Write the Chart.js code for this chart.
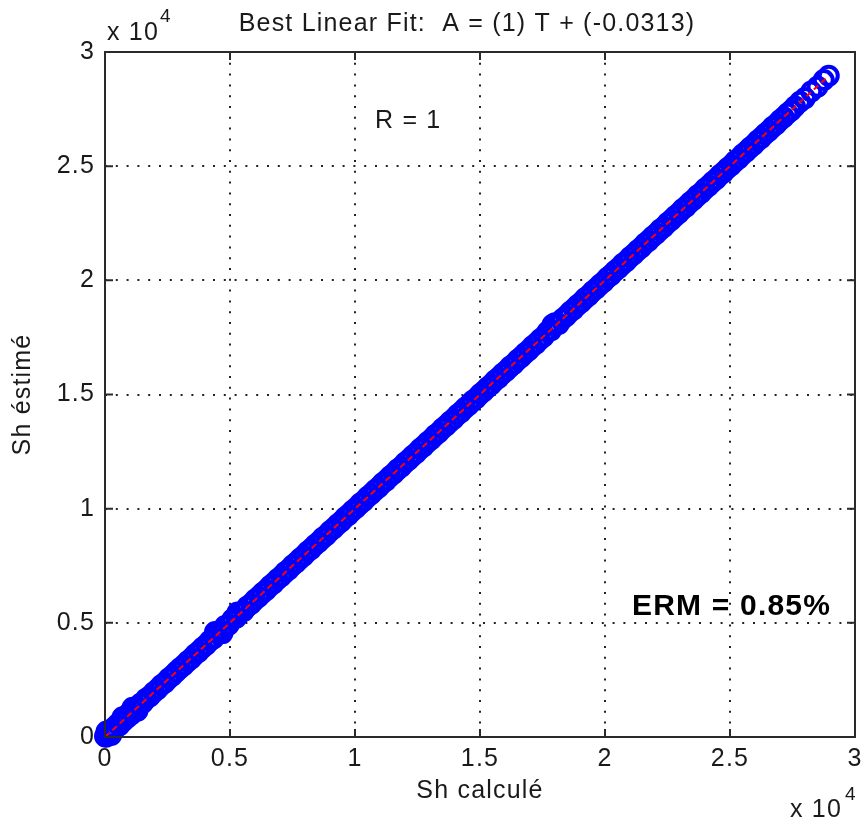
<!DOCTYPE html>
<html><head><meta charset="utf-8">
<script src="https://cdn.jsdelivr.net/npm/chart.js@4"></script>
<style>html,body{margin:0;padding:0;background:#fff}canvas{display:block}</style>
</head><body>
<canvas id="c" width="861" height="818"></canvas>
<script>
// Sh calculé (T) values, read along the diagonal band
const shCalcule = [
  0, 40, 90, 150, 210, 280, 350, 420, 500, 580,
  660, 740, 820, 900, 980, 1060, 1150, 1240, 1330, 1420,
  1520, 1650, 1800, 1950, 2100, 2250, 2400, 2550, 2700, 2850,
  3000, 3150, 3300, 3450, 3600, 3750, 3900, 4050, 4200, 4350,
  4500, 4650, 4800, 4950, 5100, 5250, 5400, 5550, 5700, 5850,
  6000, 6150, 6300, 6450, 6600, 6750, 6900, 7050, 7200, 7350,
  7500, 7650, 7800, 7950, 8100, 8250, 8400, 8550, 8700, 8850,
  9000, 9150, 9300, 9450, 9600, 9750, 9900, 10050, 10200, 10350,
  10500, 10650, 10800, 10950, 11100, 11250, 11400, 11550, 11700, 11850,
  12000, 12150, 12300, 12450, 12600, 12750, 12900, 13050, 13200, 13350,
  13500, 13650, 13800, 13950, 14100, 14250, 14400, 14550, 14700, 14850,
  15000, 15150, 15300, 15450, 15600, 15750, 15900, 16050, 16200, 16350,
  16500, 16650, 16800, 16950, 17100, 17250, 17400, 17550, 17700, 17850,
  18000, 18150, 18300, 18450, 18600, 18750, 18900, 19050, 19200, 19350,
  19500, 19650, 19800, 19950, 20100, 20250, 20400, 20550, 20700, 20850,
  21000, 21150, 21300, 21450, 21600, 21750, 21900, 22050, 22200, 22350,
  22500, 22650, 22800, 22950, 23100, 23250, 23400, 23550, 23700, 23850,
  24000, 24150, 24300, 24450, 24600, 24750, 24900, 25050, 25200, 25350,
  25500, 25650, 25800, 25950, 26100, 26250, 26400, 26550, 26700, 26850,
  27000, 27150, 27300, 27450, 27600, 27800, 28000, 28250, 28500, 28750,
  28950, 60, 250, 700, 1100, 1300, 4400, 4700, 5300, 17900
];
// Sh éstimé (A) values
const shEstime = [
  30, 10, 160, 100, 290, 230, 400, 380, 560, 520,
  720, 700, 900, 850, 1060, 1000, 1220, 1190, 1300, 1460,
  1500, 1680, 1790, 1960, 2090, 2270, 2390, 2560, 2690, 2860,
  3010, 3140, 3310, 3440, 3610, 3740, 3910, 4040, 4220, 4330,
  4560, 4620, 4860, 4920, 5160, 5220, 5430, 5520, 5720, 5840,
  6010, 6140, 6310, 6440, 6610, 6740, 6910, 7040, 7210, 7340,
  7510, 7640, 7810, 7940, 8110, 8240, 8410, 8540, 8710, 8840,
  9010, 9140, 9310, 9440, 9610, 9740, 9910, 10040, 10210, 10340,
  10510, 10640, 10810, 10940, 11110, 11240, 11410, 11540, 11710, 11840,
  12010, 12140, 12310, 12440, 12610, 12740, 12910, 13040, 13210, 13340,
  13510, 13640, 13810, 13940, 14110, 14240, 14410, 14540, 14710, 14840,
  15010, 15140, 15310, 15440, 15610, 15740, 15910, 16040, 16210, 16340,
  16510, 16640, 16810, 16940, 17110, 17240, 17410, 17540, 17750, 17820,
  18120, 18090, 18310, 18440, 18610, 18740, 18910, 19040, 19210, 19340,
  19510, 19640, 19810, 19940, 20110, 20240, 20410, 20540, 20710, 20840,
  21010, 21140, 21310, 21440, 21610, 21740, 21910, 22040, 22210, 22340,
  22510, 22640, 22810, 22940, 23110, 23240, 23410, 23540, 23710, 23840,
  24010, 24140, 24310, 24440, 24610, 24740, 24910, 25040, 25210, 25340,
  25510, 25640, 25810, 25940, 26110, 26240, 26410, 26540, 26710, 26840,
  27010, 27140, 27310, 27440, 27610, 27820, 27980, 28270, 28480, 28770,
  28960, 240, 90, 860, 1280, 1150, 4600, 4550, 5450, 18050
];
const tickLabels = ['0', '0.5', '1', '1.5', '2', '2.5', '3'];
const axisMin = 0;
const axisMax = 30000;
const tickStep = 5000;
const fitSlope = 1;
const fitIntercept = -0.0313;
const titleText = 'Best Linear Fit:  A = (1) T + (-0.0313)';
const rText = 'R = 1';
const ermText = 'ERM = 0.85%';
const xTitle = 'Sh calculé';
const yTitle = 'Sh éstimé';
const expBase = 'x 10';
const expPow = '4';

const FONT = '"Liberation Sans", Arial, Helvetica, sans-serif';
const TXT = '#1a1a1a';

const points = shCalcule.map((t, i) => ({ x: t, y: shEstime[i] }));
const tMin = Math.min(...shCalcule);
const tMax = Math.max(...shCalcule);
const fitData = [
  { x: tMin, y: fitSlope * tMin + fitIntercept },
  { x: tMax, y: fitSlope * tMax + fitIntercept }
];

const decor = {
  id: 'decor',
  beforeDraw(chart) {
    const c = chart.ctx;
    c.letterSpacing = '1.2px';
    c.save();
    c.fillStyle = '#ffffff';
    c.fillRect(0, 0, chart.width, chart.height);
    c.restore();
  },
  afterDraw(chart) {
    const c = chart.ctx;
    const a = chart.chartArea;
    const xs = chart.scales.x, ys = chart.scales.y;
    c.save();
    c.setLineDash([]);
    c.strokeStyle = '#2a2a2a';
    c.lineWidth = 2;
    c.strokeRect(a.left, a.top, a.right - a.left, a.bottom - a.top);
    const tl = 8;
    c.beginPath();
    xs.ticks.forEach(t => {
      const px = xs.getPixelForValue(t.value);
      c.moveTo(px, a.bottom); c.lineTo(px, a.bottom - tl);
      c.moveTo(px, a.top); c.lineTo(px, a.top + tl);
    });
    ys.ticks.forEach(t => {
      const py = ys.getPixelForValue(t.value);
      c.moveTo(a.left, py); c.lineTo(a.left + tl, py);
      c.moveTo(a.right, py); c.lineTo(a.right - tl, py);
    });
    c.stroke();

    c.fillStyle = TXT;
    c.textBaseline = 'alphabetic';
    c.textAlign = 'center';
    c.font = '25px ' + FONT;
    c.fillText(titleText, 467, 31);

    c.textAlign = 'left';
    c.fillText(rText, 375, 128);
    c.fillText(expBase, 107, 40);
    c.font = '19px ' + FONT;
    c.fillText(expPow, 160, 22);
    c.font = '25px ' + FONT;
    c.fillText(expBase, 790, 817);
    c.font = '19px ' + FONT;
    c.fillText(expPow, 845, 800);

    c.font = 'bold 30px ' + FONT;
    c.fillStyle = '#000';
    c.fillText(ermText, 632, 615);
    c.restore();
  }
};

const canvas = document.getElementById('c');
const ctx = canvas.getContext('2d');

new Chart(ctx, {
  type: 'scatter',
  data: {
    datasets: [
      {
        label: 'Best Linear Fit',
        type: 'line',
        data: fitData,
        borderColor: '#ff0000',
        borderWidth: 2,
        borderDash: [6, 4],
        pointRadius: 0,
        fill: false,
        clip: false,
        order: 0
      },
      {
        label: 'Data Points',
        data: points,
        pointStyle: 'circle',
        pointRadius: 9,
        borderWidth: 4,
        borderColor: '#0000ff',
        backgroundColor: 'rgba(0,0,0,0)',
        clip: false,
        order: 1
      }
    ]
  },
  options: {
    responsive: false,
    animation: false,
    devicePixelRatio: 1,
    layout: { autoPadding: false, padding: { top: 52, right: 6, left: 0, bottom: 0 } },
    plugins: { legend: { display: false }, tooltip: { enabled: false }, title: { display: false } },
    scales: {
      x: {
        type: 'linear', position: 'bottom', min: axisMin, max: axisMax,
        ticks: {
          stepSize: tickStep, autoSkip: false, maxRotation: 0, padding: 7,
          color: TXT, font: { family: FONT, size: 25 },
          callback: (v, i) => tickLabels[i]
        },
        grid: { color: '#222', lineWidth: 2, drawTicks: false },
        border: { display: false, dash: [2, 8.8] },
        title: { display: true, text: xTitle, color: TXT, font: { family: FONT, size: 25 }, padding: { top: 0, bottom: 12 } },
        afterFit: s => { s.height = 81; s.paddingLeft = 0; s.paddingRight = 0; }
      },
      y: {
        type: 'linear', position: 'left', min: axisMin, max: axisMax,
        ticks: {
          stepSize: tickStep, autoSkip: false, padding: 10,
          color: TXT, font: { family: FONT, size: 25 },
          callback: (v, i) => tickLabels[i]
        },
        grid: { color: '#222', lineWidth: 2, drawTicks: false },
        border: { display: false, dash: [2, 8.8] },
        title: { display: true, text: yTitle, color: TXT, font: { family: FONT, size: 25 }, padding: { top: 8, bottom: 0 } },
        afterFit: s => { s.width = 105; s.paddingTop = 0; s.paddingBottom = 0; }
      }
    }
  },
  plugins: [decor]
});
</script>
</body></html>
